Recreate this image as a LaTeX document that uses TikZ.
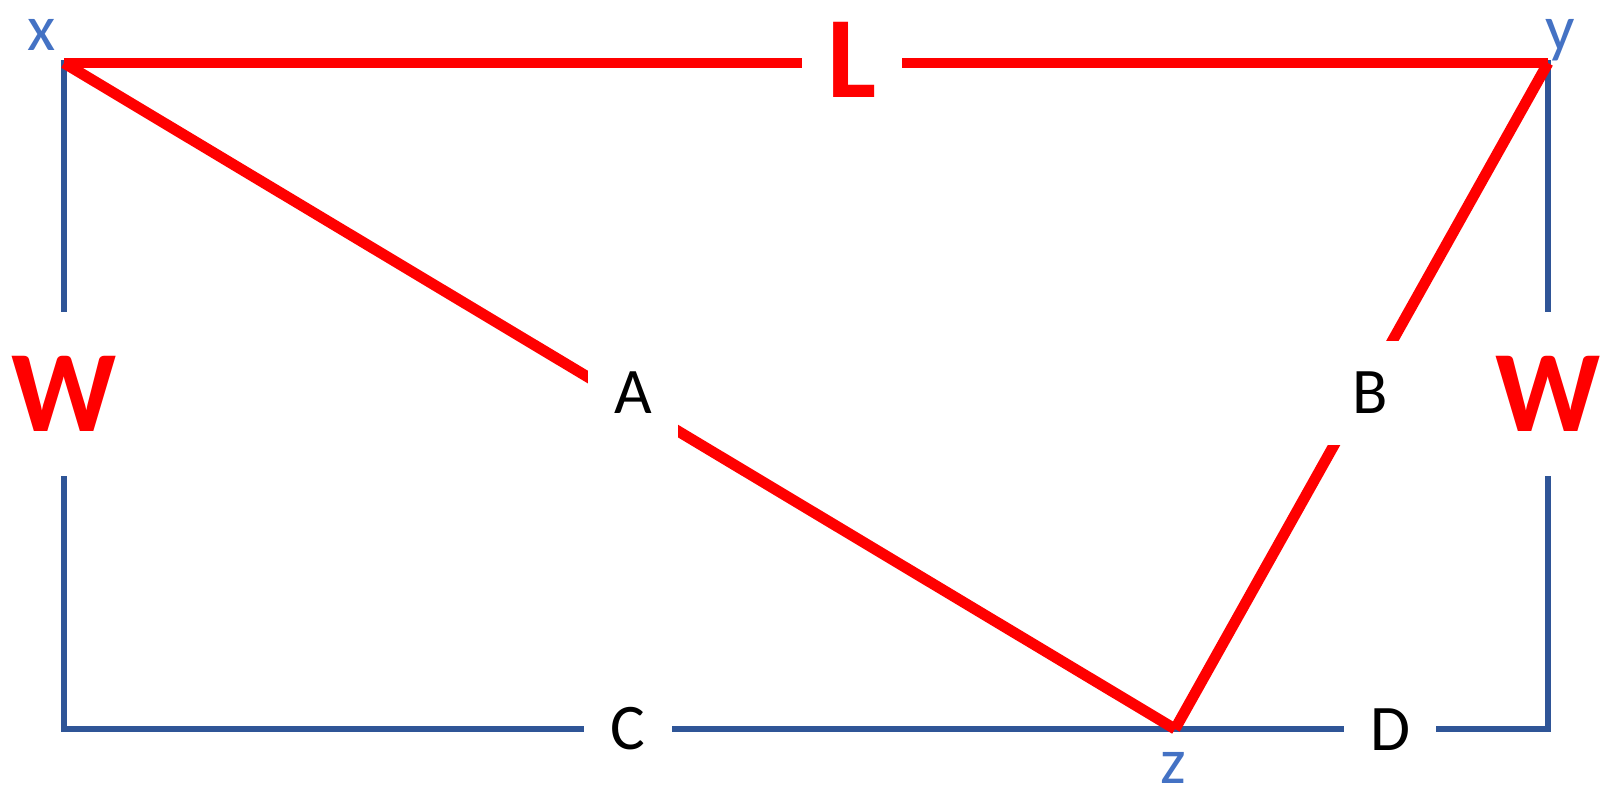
\documentclass[tikz,border=0pt]{standalone}
\usepackage{fontspec}
\setmainfont{Carlito}
\definecolor{frameblue}{HTML}{2F5597}
\definecolor{labelblue}{HTML}{4472C4}

\begin{document}
\begin{tikzpicture}[x=0.01cm,y=-0.01cm,
  frame/.style={draw=frameblue,line width=1.85pt},
  edge/.style={draw=red,line width=3.1pt},
  gap/.style={fill=white,inner sep=0pt},
  letter/.style={gap,font=\fontsize{18.5}{22}\selectfont},
  big/.style={gap,text=red,font=\fontsize{33}{40}\selectfont\bfseries},
  corner/.style={text=labelblue,font=\fontsize{18.5}{22}\selectfont},
  ]
\useasboundingbox (0,0) rectangle (1609,805);
\coordinate (px) at (64,63);
\coordinate (py) at (1548,63);
\coordinate (pz) at (1175,729);
\coordinate (bl) at (64,729);
\coordinate (br) at (1548,729);
\draw[frame] (px) -- (bl) -- (br) -- (py) -- cycle;
\draw[edge] (px) -- (py);
\draw[edge] (px) -- (pz);
\draw[edge] (py) -- (pz);
% labels sit on the lines and cut them
\node[big,minimum width=1cm,minimum height=1cm] (L) at (852,60) {L};
\node[big,minimum height=1.64cm] (Wl) at (64,394) {W};
\node[big,minimum height=1.64cm] (Wr) at (1548,394) {W};
\node[letter,minimum width=0.9cm,minimum height=1cm] (A) at (633,393) {A};
\node[letter,minimum width=1cm,minimum height=1.04cm] (B) at (1370,393) {B};
\node[letter,minimum width=0.88cm,minimum height=0.6cm] (C) at (628,729) {C};
\node[letter,minimum width=0.92cm,minimum height=0.6cm] (D) at (1390,730) {D};
\node[corner] (lx) at (42,35) {x};
\node[corner] (ly) at (1560,40) {y};
\node[corner] (lz) at (1173,768) {z};
\end{tikzpicture}
\end{document}
